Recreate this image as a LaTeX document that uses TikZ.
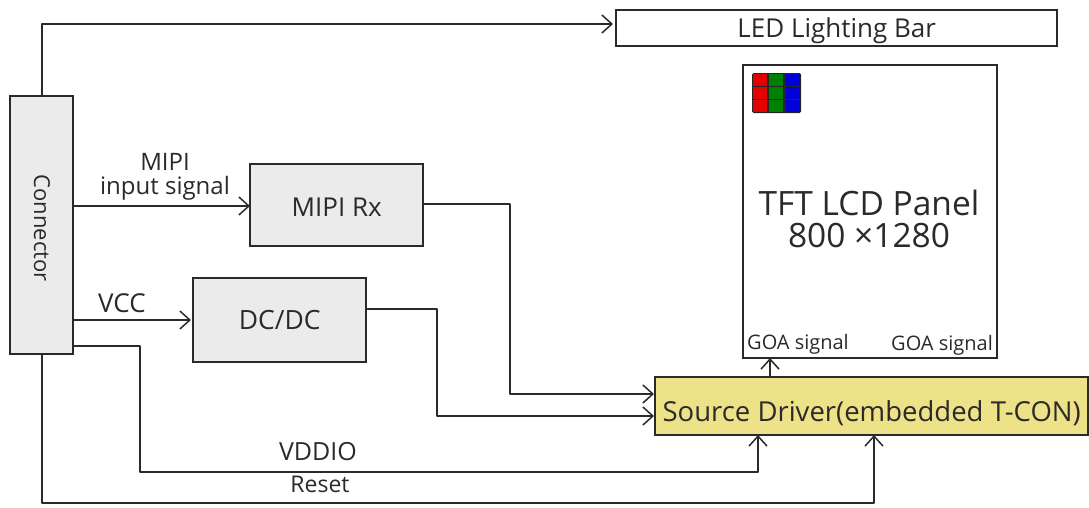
\documentclass[tikz,border=0pt]{standalone}
\usepackage{fontspec}
\setmainfont{Open Sans}
\usetikzlibrary{arrows.meta}
\definecolor{drvfill}{HTML}{EEE288}
\definecolor{boxgrey}{HTML}{EBEBEB}
\definecolor{ink}{HTML}{2A2A2A}
\begin{document}
\begin{tikzpicture}[x=1pt,y=-1pt,
 box/.style={draw=ink,line width=2.4pt,inner sep=0pt,anchor=north west},
 grey/.style={box,fill=boxgrey},
 wire/.style={draw=ink,line width=1.7pt,line join=round,-{Straight Barb[length=10pt,width=18pt,line width=1.5pt]}},
 lab/.style={inner sep=0pt,text=ink,align=center}]
\useasboundingbox (0,0) rectangle (1089,507);
\node[box,minimum width=441pt,minimum height=36pt,text=ink,font=\fontsize{26}{30}\selectfont] (led) at (615,9) {\raisebox{-9.5pt}[0pt][0pt]{LED Lighting Bar}};
\node[box,minimum width=254pt,minimum height=293pt] (panel) at (742,64) {};
\node[lab,font=\fontsize{33.5}{32}\selectfont] (paneltext) at (869,219) {TFT LCD Panel\\800 ×1280};
\node[grey,minimum width=63pt,minimum height=258pt] (conn) at (9,95) {};
\node[lab,rotate=-90,font=\fontsize{22}{25}\selectfont] (conntext) at (42,228) {Connector};
\node[grey,minimum width=173pt,minimum height=82pt,text=ink,font=\fontsize{26}{30}\selectfont] (mipi) at (249,163) {\raisebox{-11.7pt}[0pt][0pt]{MIPI Rx}};
\node[grey,minimum width=173pt,minimum height=84pt,text=ink,font=\fontsize{26.5}{30}\selectfont] (dc) at (192,277) {DC/DC};
\node[box,fill=drvfill,minimum width=433pt,minimum height=58pt,text=ink,font=\fontsize{27.5}{31}\selectfont] (drv) at (654,376) {\raisebox{-15.5pt}[0pt][0pt]{Source Driver(embedded T-CON)}};
\node[lab,font=\fontsize{20}{24}\selectfont] (goa1) at (798,344) {GOA signal};
\node[lab,font=\fontsize{20}{24}\selectfont] (goa2) at (942,345) {GOA signal};
\node[lab,font=\fontsize{24}{24}\selectfont] (mipilab) at (165,177) {MIPI\\input signal};
\node[lab,font=\fontsize{26}{27}\selectfont] (vcc) at (122,303) {VCC};
\node[lab,font=\fontsize{25}{27}\selectfont] (vddio) at (318,452) {VDDIO};
\node[lab,font=\fontsize{23}{27}\selectfont] (reset) at (320,484) {Reset};
\coordinate (c1) at (42,95);
\coordinate (c2) at (73,206);
\coordinate (c3) at (73,320);
\coordinate (c4) at (73,346);
\coordinate (c5) at (42,354);
\coordinate (m1) at (422,204);
\coordinate (d1) at (366,309);
\coordinate (ledin) at (613,24);
\coordinate (mipiin) at (250,206);
\coordinate (dcin) at (191,320);
\coordinate (d2) at (654,394);
\coordinate (d3) at (654,416);
\coordinate (d4) at (758,435);
\coordinate (d5) at (874,435);
\coordinate (g1) at (770,377);
\coordinate (g2) at (770,358);
\draw[wire] (c1) -- (42,24) -- (ledin);
\draw[wire] (c2) -- (mipiin);
\draw[wire] (c3) -- (dcin);
\draw[wire] (m1) -- (510,204) -- (510,394) -- (d2);
\draw[wire] (d1) -- (437,309) -- (437,416) -- (d3);
\draw[wire] (c4) -- (140,346) -- (140,472) -- (758,472) -- (d4);
\draw[wire] (c5) -- (42,503) -- (874,503) -- (d5);
\draw[wire] (g1) -- (g2);
\fill[black!85,rounded corners=1.5pt] (752,73) rectangle (801,113);
\foreach \x/\c in {753/red!90!black,769/green!50!black,786/blue!85!black}{
 \foreach \y in {74,87,100}{
 \fill[\c] (\x,\y) rectangle ++(14,11.5);}}
\end{tikzpicture}
\end{document}
